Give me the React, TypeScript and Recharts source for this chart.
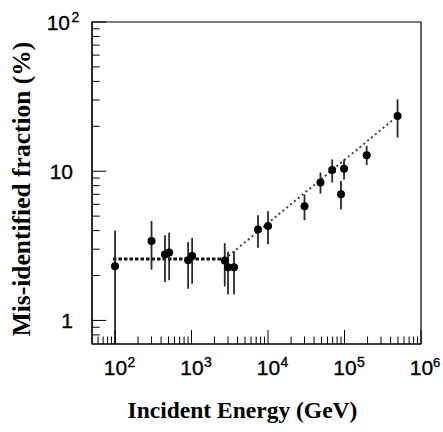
import React from 'react';
import { ComposedChart, Scatter, Line, XAxis, YAxis, ErrorBar, ReferenceArea, Label } from 'recharts';

// Incident energy (GeV)
const energies = [100, 300, 450, 510, 903, 1019, 2720, 3000, 3590, 7400, 10000, 30000, 48500, 69000, 90000, 98600, 195000, 494000];
// Mis-identified fraction (%)
const fractions = [2.31, 3.40, 2.77, 2.85, 2.53, 2.70, 2.52, 2.27, 2.27, 4.06, 4.29, 5.82, 8.4, 10.2, 7.0, 10.4, 12.8, 23.4];
const upperBounds = [4.0, 4.64, 3.72, 3.88, 3.35, 3.57, 3.30, 2.89, 2.89, 5.07, 5.39, 6.98, 9.8, 12.0, 8.6, 12.0, 14.8, 30.3];
const lowerBounds = [0.695, 2.19, 1.81, 1.86, 1.63, 1.76, 1.69, 1.50, 1.50, 3.07, 3.24, 4.69, 7.08, 8.4, 5.53, 8.8, 11.0, 16.8];

// Fit lines
const flatFitX = [94, 2720];
const flatFitY = [2.58, 2.58];
const riseFitX = [2720, 417000];
const riseFitY = [2.58, 21.8];

// Axes
const xDomain = [50, 1000000];
const yDomain = [0.695, 100];
const xMajorTicks = [100, 1000, 10000, 100000, 1000000];
const xTickExponents = ['2', '3', '4', '5', '6'];
const yMajorTicks = [1, 10, 100];
const yTickLabels = ['1', '10', '10'];
const yTickExponents = ['', '', '2'];
const minorMultipliers = [2, 3, 4, 5, 6, 7, 8, 9];

const xMinorTicks = [60, 70, 80, 90];
[100, 1000, 10000, 100000].forEach((d) => minorMultipliers.forEach((m) => xMinorTicks.push(d * m)));
const yMinorTicks = [0.8, 0.9];
[1, 10].forEach((d) => minorMultipliers.forEach((m) => yMinorTicks.push(d * m)));

const xTicks = [...xMinorTicks, ...xMajorTicks].sort((a, b) => a - b);
const yTicks = [...yMinorTicks, ...yMajorTicks].sort((a, b) => a - b);

const points = energies.map((e, i) => ({
  x: e,
  y: fractions[i],
  err: [fractions[i] - lowerBounds[i], upperBounds[i] - fractions[i]],
}));
const flatData = flatFitX.map((x, i) => ({ x, y: flatFitY[i] }));
const riseData = riseFitX.map((x, i) => ({ x, y: riseFitY[i] }));

const sans = '"Liberation Sans", Arial, Helvetica, sans-serif';
const serif = '"Liberation Serif", "Times New Roman", Times, serif';
const labelStroke = { stroke: '#000', strokeWidth: 0.35 };

const XTick = (props: any) => {
  const { x, y, payload } = props;
  const v = payload.value;
  const idx = xMajorTicks.indexOf(v);
  const major = idx >= 0;
  const len = major ? 14 : 7.5;
  const last = idx === xMajorTicks.length - 1;
  const shift = last ? 0.5 : 0.5;
  const supGap = last ? 11.5 : 12;
  return (
    <g>
      <line x1={x} y1={y} x2={x} y2={y - len} stroke="#000" strokeWidth={1} />
      {major && (
        <>
          <text x={x + shift} y={y + 31} textAnchor="middle" fontSize={21} fontFamily={sans} fill="#000" {...labelStroke}>10</text>
          <text x={x + shift + supGap} y={y + 22.7} textAnchor="start" fontSize={last ? 13 : 14} fontFamily={sans} fill="#000" {...labelStroke}>
            {xTickExponents[idx]}
          </text>
        </>
      )}
    </g>
  );
};

const YTick = (props: any) => {
  const { x, y, payload } = props;
  const v = payload.value;
  const idx = yMajorTicks.indexOf(v);
  const major = idx >= 0;
  const len = major ? 14.3 : 7.7;
  const hasExp = major && yTickExponents[idx] !== '';
  return (
    <g>
      <line x1={x} y1={y} x2={x + len} y2={y} stroke="#000" strokeWidth={1} />
      {major && (
        <text x={hasExp ? x - 22 : x - 19} y={y + 7.5} textAnchor="end" fontSize={21} fontFamily={sans} fill="#000" {...labelStroke}>
          {yTickLabels[idx]}
        </text>
      )}
      {hasExp && (
        <text x={x - 20.5} y={y - 0.3} textAnchor="start" fontSize={14} fontFamily={sans} fill="#000" {...labelStroke}>
          {yTickExponents[idx]}
        </text>
      )}
    </g>
  );
};

const Dot = (p: any) => <circle cx={p.cx} cy={p.cy} r={4} fill="#000" />;

export default function App() {
  return (
    <div style={{ position: 'absolute', left: 0, top: 0, width: 443, height: 432, background: '#fff', overflow: 'hidden' }}>
      <ComposedChart width={443} height={432} margin={{ top: 22, right: 22, bottom: 87, left: 91 }}>
        <XAxis
          dataKey="x"
          type="number"
          scale="log"
          domain={xDomain}
          allowDataOverflow
          ticks={xTicks}
          interval={0}
          tick={<XTick />}
          tickLine={false}
          tickSize={0}
          tickMargin={0}
          height={1}
          axisLine={{ stroke: '#000', strokeWidth: 1.2 }}
        >
          <Label
            content={() => (
              <text x={242.5} y={417.5} textAnchor="middle" fontSize={23.5} fontWeight="bold" fontFamily={serif} fill="#000">
                Incident Energy (GeV)
              </text>
            )}
          />
        </XAxis>
        <YAxis
          dataKey="y"
          type="number"
          scale="log"
          domain={yDomain}
          allowDataOverflow
          ticks={yTicks}
          interval={0}
          tick={<YTick />}
          tickLine={false}
          tickSize={0}
          tickMargin={0}
          width={1}
          axisLine={{ stroke: '#000', strokeWidth: 1.2 }}
        >
          <Label
            content={() => (
              <text
                x={30}
                y={189}
                transform="rotate(-90 30 189)"
                textAnchor="middle"
                fontSize={25.5}
                fontWeight="bold"
                fontFamily={serif}
                fill="#000"
              >
                Mis-identified fraction (%)
              </text>
            )}
          />
        </YAxis>
        <ReferenceArea
          x1={xDomain[0]}
          x2={xDomain[1]}
          y1={yDomain[0]}
          y2={yDomain[1]}
          fill="none"
          fillOpacity={0}
          stroke="#000"
          strokeWidth={1.2}
        />
        <Line
          data={flatData}
          dataKey="y"
          type="linear"
          stroke="#111"
          strokeWidth={3}
          strokeDasharray="3.5 2"
          dot={false}
          activeDot={false}
          isAnimationActive={false}
        />
        <Line
          data={riseData}
          dataKey="y"
          type="linear"
          stroke="#444"
          strokeWidth={2}
          strokeDasharray="2 3"
          dot={false}
          activeDot={false}
          isAnimationActive={false}
        />
        <Scatter data={points} dataKey="y" fill="#000" shape={<Dot />} isAnimationActive={false}>
          <ErrorBar dataKey="err" direction="y" width={0} stroke="#2a2a2a" strokeWidth={1.8} isAnimationActive={false} />
        </Scatter>
      </ComposedChart>
    </div>
  );
}
